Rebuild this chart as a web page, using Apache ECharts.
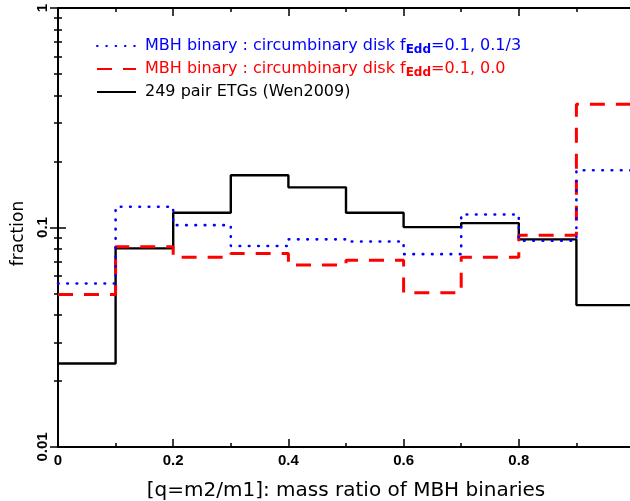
<!DOCTYPE html>
<html>
<head>
<meta charset="utf-8">
<script src="https://cdn.jsdelivr.net/npm/echarts@6/dist/echarts.min.js"></script>
<style>html,body{margin:0;padding:0;background:#fff}#c{width:630px;height:501px}</style>
</head>
<body>
<div id="c"></div>
<script>
// bin edges of the mass ratio q
var binEdges = [0, 0.1, 0.2, 0.3, 0.4, 0.5, 0.6, 0.7, 0.8, 0.9, 1.0];
// fractions per bin
var blueFrac  = [0.0556, 0.1243, 0.1025, 0.0823, 0.0883, 0.0864, 0.0756, 0.1147, 0.0870, 0.1822];
var redFrac   = [0.0495, 0.0817, 0.0731, 0.0762, 0.0674, 0.0710, 0.0504, 0.0731, 0.0923, 0.364];
var blackFrac = [0.0240, 0.0803, 0.1167, 0.1729, 0.1524, 0.1167, 0.1004, 0.1047, 0.0883, 0.0443];
// tick values / labels
var xMajorTicks = [0, 0.2, 0.4, 0.6, 0.8, 1.0];
var xTickLabels = ['0', '0.2', '0.4', '0.6', '0.8', ''];
var xMinorTicks = [0.1, 0.3, 0.5, 0.7, 0.9];
var yMajorTicks = [0.01, 0.1, 1];
var yTickLabels = ['0.01', '0.1', '1'];
var yMinorTicks = [0.02,0.03,0.04,0.05,0.06,0.07,0.08,0.09,0.2,0.3,0.4,0.5,0.6,0.7,0.8,0.9];

var nameBlue = 'blue', nameRed = 'red', nameBlack = 'black';

function steps(vals) {
  return binEdges.map(function (e, i) { return [e, vals[Math.min(i, vals.length - 1)]]; });
}

var chart = echarts.init(document.getElementById('c'), null, {renderer: 'canvas'});
var axisLine = {show: true, lineStyle: {color: '#000', width: 2}};
var tickFont = {fontFamily: 'Liberation Sans', fontWeight: 'bold', fontSize: 15, color: '#000'};

function xAxisDef(pos, major, withLabels) {
  return {
    type: 'value', position: pos, min: 0, max: 1, interval: 0.2,
    axisLine: major ? axisLine : {show: false},
    axisTick: {show: true, inside: true, length: major ? 8 : 4, customValues: major ? xMajorTicks : xMinorTicks,
      lineStyle: {color: '#000', width: 1.5}},
    splitLine: {show: false},
    axisLabel: withLabels ? Object.assign({show: true, margin: 6, customValues: xMajorTicks, formatter: function (v) {
      var i = xMajorTicks.findIndex(function (t) { return Math.abs(t - v) < 1e-9; });
      return i >= 0 ? xTickLabels[i] : '';
    }}, tickFont) : {show: false},
    name: withLabels ? '[q=m2/m1]: mass ratio of MBH binaries' : '',
    nameLocation: 'middle', nameGap: 34,
    nameTextStyle: {fontFamily: 'DejaVu Sans', fontSize: 20, color: '#000'}
  };
}
function yAxisDef(pos, major, withLabels) {
  return {
    type: 'log', logBase: 10, position: pos, min: 0.01, max: 1,
    axisLine: major ? axisLine : {show: false},
    axisTick: {show: true, inside: true, length: major ? 8 : 4, customValues: major ? yMajorTicks : yMinorTicks,
      lineStyle: {color: '#000', width: 1.5}},
    splitLine: {show: false},
    axisLabel: withLabels ? Object.assign({show: true, rotate: 90, margin: 8, customValues: yMajorTicks,
      formatter: function (v) {
        var i = yMajorTicks.findIndex(function (t) { return Math.abs(Math.log10(t) - Math.log10(v)) < 1e-6; });
        return i >= 0 ? yTickLabels[i] : '';
      }}, tickFont) : {show: false},
    name: withLabels ? 'fraction' : '',
    nameLocation: 'middle', nameGap: 30,
    nameTextStyle: {fontFamily: 'DejaVu Sans', fontSize: 17, color: '#000', padding: [0, 12, 0, 0]}
  };
}

var legendText = {};
legendText[nameBlue] = '{b0|MBH binary : circumbinary disk f}{bs|Edd}{bt|=0.1, 0.1/3}';
legendText[nameRed] = '{r0|MBH binary : circumbinary disk f}{rs|Edd}{rt|=0.1, 0.0}';
legendText[nameBlack] = '{k0|249 pair ETGs (Wen2009)}';

var first = {fontFamily: 'DejaVu Sans', fontSize: 16, padding: [0, 0, 0, 4]};
var baseT = {fontFamily: 'DejaVu Sans', fontSize: 16};
var baseS = {fontFamily: 'DejaVu Sans', fontSize: 12, fontWeight: 'bold', padding: [8, 0, 0, 0]};

chart.setOption({
  animation: false,
  backgroundColor: '#fff',
  grid: {left: 58, right: -4, top: 8, bottom: 54, containLabel: false, outerBoundsMode: 'none'},
  legend: {
    data: [nameBlue, nameRed, nameBlack],
    orient: 'vertical', left: 96, top: 38, padding: 0,
    itemWidth: 39, itemHeight: 16, itemGap: 5,
    selectedMode: false,
    itemStyle: {opacity: 0},
    formatter: function (n) { return legendText[n]; },
    textStyle: {
      rich: {
        b0: Object.assign({color: '#0000ff'}, first),
        bt: Object.assign({color: '#0000ff'}, baseT),
        bs: Object.assign({color: '#0000ff'}, baseS),
        r0: Object.assign({color: '#ff0000'}, first),
        rt: Object.assign({color: '#ff0000'}, baseT),
        rs: Object.assign({color: '#ff0000'}, baseS),
        k0: Object.assign({color: '#000000'}, first)
      }
    }
  },
  xAxis: [xAxisDef('bottom', true, true), xAxisDef('bottom', false, false),
          xAxisDef('top', true, false), xAxisDef('top', false, false)],
  yAxis: [yAxisDef('left', true, true), yAxisDef('left', false, false),
          yAxisDef('right', true, false), yAxisDef('right', false, false)],
  series: [
    {name: nameBlack, type: 'line', step: 'end', data: steps(blackFrac), symbol: 'none',
     lineStyle: {color: '#000', width: 2.4}, itemStyle: {color: '#000'}},
    {name: nameRed, type: 'line', step: 'end', data: steps(redFrac), symbol: 'none',
     lineStyle: {color: '#ff0000', width: 3, type: [15, 11]}, itemStyle: {color: '#ff0000'}},
    {name: nameBlue, type: 'line', step: 'end', data: steps(blueFrac), symbol: 'none',
     lineStyle: {color: '#0000ff', width: 2.6, type: [0.6, 8.7], cap: 'round'}, itemStyle: {color: '#0000ff'}}
  ]
});
</script>
</body>
</html>
